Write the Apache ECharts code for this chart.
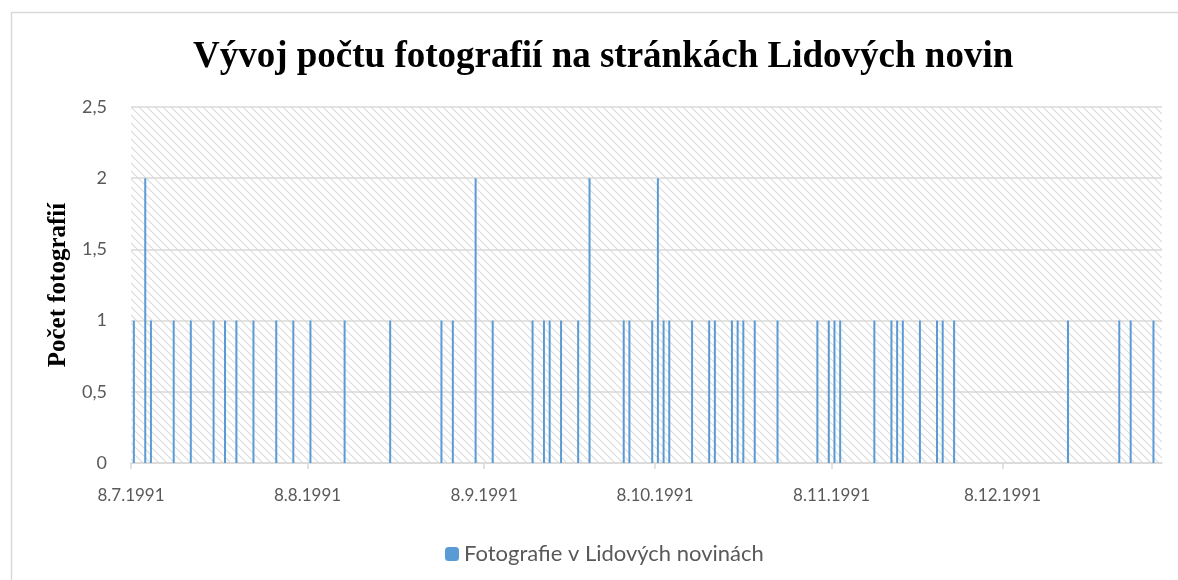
<!DOCTYPE html>
<html>
<head>
<meta charset="utf-8">
<title>Vývoj počtu fotografií</title>
<script src="https://cdn.jsdelivr.net/npm/echarts@6/dist/echarts.min.js"></script>
<style>
    html, body {margin: 0; padding: 0; background: #fff;}
    #chart {width: 1178px; height: 580px;}
</style>
</head>
<body>
<div id="chart"></div>
<script>
// dny, kdy vyšla fotografie, a kolik jich bylo
const photoDates = [
    '1991-07-08', '1991-07-10', '1991-07-11', '1991-07-15', '1991-07-18', '1991-07-22',
    '1991-07-24', '1991-07-26', '1991-07-29', '1991-08-02', '1991-08-05', '1991-08-08',
    '1991-08-14', '1991-08-22', '1991-08-31', '1991-09-02', '1991-09-06', '1991-09-09',
    '1991-09-16', '1991-09-18', '1991-09-19', '1991-09-21', '1991-09-24', '1991-09-26',
    '1991-10-02', '1991-10-03', '1991-10-07', '1991-10-08', '1991-10-09', '1991-10-10',
    '1991-10-14', '1991-10-17', '1991-10-18', '1991-10-21', '1991-10-22', '1991-10-23',
    '1991-10-25', '1991-10-29', '1991-11-05', '1991-11-07', '1991-11-08', '1991-11-09',
    '1991-11-15', '1991-11-18', '1991-11-19', '1991-11-20', '1991-11-23', '1991-11-26',
    '1991-11-27', '1991-11-29', '1991-12-19', '1991-12-28', '1991-12-30', '1992-01-03'
];
const photoCounts = [
    1, 2, 1, 1, 1, 1,
    1, 1, 1, 1, 1, 1,
    1, 1, 1, 1, 2, 1,
    1, 1, 1, 1, 1, 2,
    1, 1, 1, 2, 1, 1,
    1, 1, 1, 1, 1, 1,
    1, 1, 1, 1, 1, 1,
    1, 1, 1, 1, 1, 1,
    1, 1, 1, 1, 1, 1
];
const tickDates = ['1991-07-08', '1991-08-08', '1991-09-08', '1991-10-08', '1991-11-08', '1991-12-08'];
const axisStart = '1991-07-08';
const axisEnd = '1992-01-05';
const seriesName = 'Fotografie v Lidových novinách';

function toTime(s, hour) {
    let p = s.split('-');
    return new Date(+p[0], +p[1] - 1, +p[2], hour || 0).getTime();
}

// šrafování pozadí grafu
function makeHatch() {
    let c = document.createElement('canvas');
    c.width = 8;
    c.height = 8;
    let ctx = c.getContext('2d');
    ctx.strokeStyle = '#dcdcdc';
    ctx.lineWidth = 1.2;
    for (let k of [-8, 0, 8]) {
        ctx.beginPath();
        ctx.moveTo(k, 0);
        ctx.lineTo(k + 8, 8);
        ctx.stroke();
    }
    return c;
}

let data = [];
for (let i = 0; i < photoDates.length; i++) {
    data.push([toTime(photoDates[i], 12), photoCounts[i]]);
}
let ticks = tickDates.map(d => toTime(d));

let myChart = echarts.init(document.getElementById('chart'));
let option = {
    backgroundColor: '#fff',
    animation: false,
    title: {
        text: 'Vývoj počtu fotografií na stránkách Lidových novin',
        left: 188,
        top: 34,
        textStyle: {
            fontFamily: 'Liberation Serif',
            fontWeight: 'bold',
            fontSize: 37,
            color: '#000'
        }
    },
    graphic: [{
        type: 'rect',
        left: 9,
        top: 10,
        shape: {width: 1200, height: 600},
        style: {fill: 'none', stroke: '#d9d9d9', lineWidth: 1.5},
        silent: true
    }],
    legend: {
        data: [seriesName],
        top: 538,
        left: 440,
        itemWidth: 14,
        itemHeight: 14,
        itemGap: 6,
        textStyle: {fontFamily: 'Lato', fontSize: 22, color: '#595959'}
    },
    grid: {
        left: 131,
        right: 16,
        top: 107,
        bottom: 117,
        show: true,
        borderWidth: 0,
        backgroundColor: {image: makeHatch(), repeat: 'repeat'}
    },
    xAxis: {
        type: 'value',
        min: toTime(axisStart),
        max: toTime(axisEnd),
        axisLine: {lineStyle: {color: '#d9d9d9', width: 1.5}},
        axisTick: {
            show: true,
            customValues: ticks,
            length: 6,
            lineStyle: {color: '#d9d9d9', width: 1.5}
        },
        axisLabel: {
            customValues: ticks,
            margin: 24,
            fontFamily: 'Lato',
            fontSize: 17,
            color: '#595959',
            formatter: function (val) {
                let d = new Date(val);
                return d.getDate() + '.' + (d.getMonth() + 1) + '.' + d.getFullYear();
            }
        },
        splitLine: {show: false}
    },
    yAxis: {
        type: 'value',
        min: 0,
        max: 2.5,
        interval: 0.5,
        name: 'Počet fotografií',
        nameLocation: 'middle',
        nameGap: 60,
        nameRotate: 90,
        nameTextStyle: {
            fontFamily: 'Liberation Serif',
            fontWeight: 'bold',
            fontSize: 25,
            color: '#000'
        },
        axisLine: {show: false},
        axisTick: {show: false},
        axisLabel: {
            margin: 24,
            fontFamily: 'Lato',
            fontSize: 18,
            color: '#595959',
            formatter: function (val) {
                return String(val).replace('.', ',');
            }
        },
        splitLine: {lineStyle: {color: '#d9d9d9', width: 1.5}}
    },
    series: [{
        name: seriesName,
        type: 'bar',
        data: data,
        barWidth: 2,
        itemStyle: {color: '#5b9bd5'}
    }]
};
myChart.setOption(option);
</script>
</body>
</html>
